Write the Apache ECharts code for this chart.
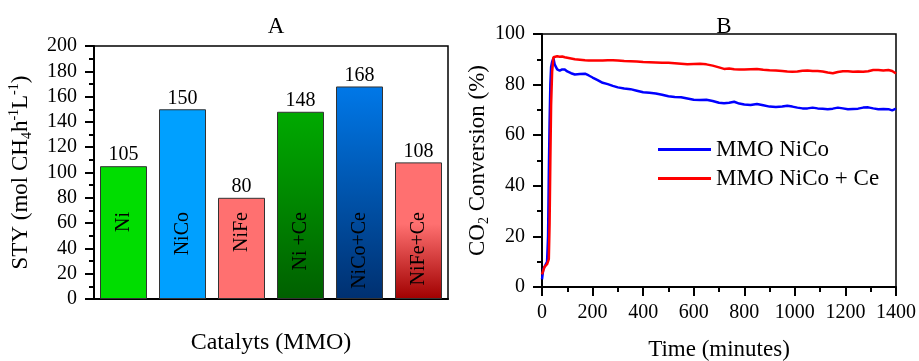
<!DOCTYPE html>
<html>
<head>
<meta charset="UTF-8">
<title>STY and CO2 conversion</title>
<script src="https://cdn.jsdelivr.net/npm/echarts@6/dist/echarts.min.js"></script>
<style>
  html, body { margin: 0; padding: 0; background: #fff; }
  #chart { width: 919px; height: 361px; }
</style>
</head>
<body>
<div id="chart"></div>
<script>
// panel A: space time yield per catalyst
const catalysts = ['Ni', 'NiCo', 'NiFe', 'Ni +Ce', 'NiCo+Ce', 'NiFe+Ce'];
const styValues = [105, 150, 80, 148, 168, 108];

// panel B: CO2 conversion over time
const timeMin = [0, 5, 10, 15, 20, 24, 27, 30, 33, 36, 40, 45, 50, 60, 70, 80, 90, 100, 115, 130,
  150, 170, 185, 200, 220, 240, 260, 280, 300, 325, 350, 375, 400, 425, 450, 475, 500, 525, 550, 575,
  600, 625, 650, 675, 700, 720, 740, 760, 780, 800, 825, 850, 875, 900, 925, 950, 970, 990, 1010, 1030,
  1050, 1070, 1090, 1110, 1130, 1150, 1170, 1190, 1210, 1230, 1250, 1270, 1290, 1310, 1330, 1350, 1370, 1385, 1400];
const convNiCo = [3, 7, 8, 9, 10, 20, 45, 65, 80, 87, 89, 90.5, 88, 86, 85.5, 86, 86, 85.2, 84.5, 84,
  84.2, 84.3, 83.6, 82.8, 81.8, 80.7, 80.2, 79.5, 78.9, 78.5, 78.2, 77.6, 77, 76.8, 76.5, 76, 75.4, 75.1, 75, 74.5,
  74, 73.9, 74, 73.5, 72.8, 72.6, 72.8, 73.2, 72.5, 72.1, 71.9, 72.3, 71.8, 71.3, 71.1, 71.3, 71.6, 71.3, 70.9, 70.6,
  70.6, 70.9, 70.6, 70.5, 70.3, 70.5, 70.9, 70.6, 70.3, 70.4, 70.5, 70.9, 71, 70.6, 70.3, 70.4, 70.3, 69.8, 70.5];
const convNiCoCe = [5, 6.5, 8, 8.5, 9, 9.5, 11, 25, 50, 72, 85, 90.8, 91.2, 91.2, 91, 91.1, 90.8, 90.6, 90.3, 90,
  89.8, 89.6, 89.5, 89.5, 89.5, 89.5, 89.6, 89.6, 89.5, 89.3, 89.2, 89.1, 88.9, 88.8, 88.7, 88.6, 88.6, 88.4, 88.2, 88,
  88.1, 88.2, 88, 87.5, 86.8, 86.2, 86.4, 86.1, 86, 86, 86.1, 86.2, 85.9, 85.7, 85.6, 85.4, 85.2, 85.1, 85.2, 85.5,
  85.6, 85.4, 85.4, 85.2, 84.8, 84.5, 85, 85.3, 85.3, 85.1, 85.2, 85.1, 85.3, 85.8, 85.8, 85.6, 85.8, 85.4, 84.4];

// bar fills, top colour then bottom colour
const barFills = [
  ['#00dd00', '#00dd00'],
  ['#00a0ff', '#00a0ff'],
  ['#ff7070', '#ff7070'],
  ['#00aa00', '#006000'],
  ['#0078e8', '#003070'],
  ['#ff7070', '#a00000']
];

const FONT = 'Liberation Serif';
const txt = { fontFamily: FONT, color: '#000' };

const barData = styValues.map((v, i) => ({
  value: v,
  itemStyle: {
    color: new echarts.graphic.LinearGradient(0, 0, 0, 1, [
      { offset: 0, color: barFills[i][0] },
      { offset: i === 5 ? 0.45 : 0, color: barFills[i][0] },
      { offset: 1, color: barFills[i][1] }
    ])
  }
}));

function valueAxisBase(labelMargin) {
  return {
    axisLine: { show: true, lineStyle: { color: '#000', width: 2 } },
    axisTick: { show: true, inside: false, length: 9, lineStyle: { color: '#000', width: 2 } },
    minorTick: { show: true, splitNumber: 2, length: 5, lineStyle: { color: '#000', width: 2 } },
    splitLine: { show: false },
    axisLabel: Object.assign({ fontSize: 20, margin: labelMargin, formatter: v => String(v) }, txt),
    nameTextStyle: Object.assign({ fontSize: 23 }, txt)
  };
}

const chart = echarts.init(document.getElementById('chart'));
chart.setOption({
  animation: false,
  backgroundColor: '#fff',
  title: [
    { text: 'A', left: 271, top: 10, textAlign: 'center', textStyle: Object.assign({ fontSize: 23, fontWeight: 'normal' }, txt) },
    { text: 'B', left: 719, top: 10, textAlign: 'center', textStyle: Object.assign({ fontSize: 23, fontWeight: 'normal' }, txt) }
  ],
  legend: {
    left: 658, top: 138, orient: 'vertical',
    itemWidth: 53, itemHeight: 3, itemGap: 6, padding: 0,
    icon: 'rect',
    textStyle: Object.assign({ fontSize: 23 }, txt),
    data: ['MMO NiCo', 'MMO NiCo + Ce']
  },
  grid: [
    { left: 94, right: 471, top: 46, bottom: 62, outerBoundsMode: 'none', show: true, borderColor: '#000', borderWidth: 1.5 },
    { left: 542, right: 23, top: 34, bottom: 74, outerBoundsMode: 'none', show: true, borderColor: '#000', borderWidth: 1.5 }
  ],
  xAxis: [
    {
      type: 'category', gridIndex: 0, data: catalysts,
      axisLine: { lineStyle: { color: '#000', width: 2 } },
      axisTick: { show: false }, axisLabel: { show: false },
      name: 'Catalyts (MMO)', nameLocation: 'middle', nameGap: 32,
      nameTextStyle: Object.assign({ fontSize: 24 }, txt)
    },
    Object.assign(valueAxisBase(16), {
      type: 'value', gridIndex: 1, min: 0, max: 1400, interval: 200,
      name: 'Time (minutes)', nameLocation: 'middle', nameGap: 51
    })
  ],
  yAxis: [
    Object.assign(valueAxisBase(17), {
      type: 'value', gridIndex: 0, min: 0, max: 200, interval: 20,
      name: '{n|STY (mol CH}{sub|4}{n|h}{sup|-1}{n|L}{sup|-1}{n|)}',
      nameLocation: 'middle', nameGap: 60,
      nameTextStyle: Object.assign({
        rich: {
          n: { fontSize: 23, fontFamily: FONT, color: '#000', lineHeight: 27 },
          sub: { fontSize: 14, fontFamily: FONT, color: '#000', lineHeight: 14, verticalAlign: 'bottom' },
          sup: { fontSize: 14, fontFamily: FONT, color: '#000', lineHeight: 14, verticalAlign: 'top' }
        }
      }, txt)
    }),
    Object.assign(valueAxisBase(17), {
      type: 'value', gridIndex: 1, min: 0, max: 100, interval: 20,
      name: '{n|CO}{sub|2}{n| Conversion (%)}',
      nameLocation: 'middle', nameGap: 50,
      nameTextStyle: Object.assign({
        rich: {
          n: { fontSize: 23, fontFamily: FONT, color: '#000', lineHeight: 27 },
          sub: { fontSize: 14, fontFamily: FONT, color: '#000', lineHeight: 14, verticalAlign: 'bottom' }
        }
      }, txt)
    })
  ],
  series: [
    {
      type: 'bar', xAxisIndex: 0, yAxisIndex: 0, data: barData, barWidth: 47,
      itemStyle: { borderColor: '#333', borderWidth: 1 },
      label: Object.assign({ show: true, position: 'top', distance: 1, fontSize: 20 }, txt)
    },
    {
      type: 'bar', xAxisIndex: 0, yAxisIndex: 0, data: styValues, barWidth: 47, barGap: '-100%',
      itemStyle: { color: 'rgba(0,0,0,0)' }, silent: true,
      label: Object.assign({
        show: true, formatter: '{b}', position: 'insideBottom', distance: 87,
        rotate: 90, align: 'right', verticalAlign: 'middle', fontSize: 20
      }, txt)
    },
    {
      name: 'MMO NiCo', type: 'line', xAxisIndex: 1, yAxisIndex: 1, showSymbol: false,
      data: timeMin.map((t, i) => [t, convNiCo[i]]),
      lineStyle: { color: '#0000ff', width: 2.5 }, itemStyle: { color: '#0000ff' }
    },
    {
      name: 'MMO NiCo + Ce', type: 'line', xAxisIndex: 1, yAxisIndex: 1, showSymbol: false,
      data: timeMin.map((t, i) => [t, convNiCoCe[i]]),
      lineStyle: { color: '#ff0000', width: 2.5 }, itemStyle: { color: '#ff0000' }
    }
  ]
});
</script>
</body>
</html>
